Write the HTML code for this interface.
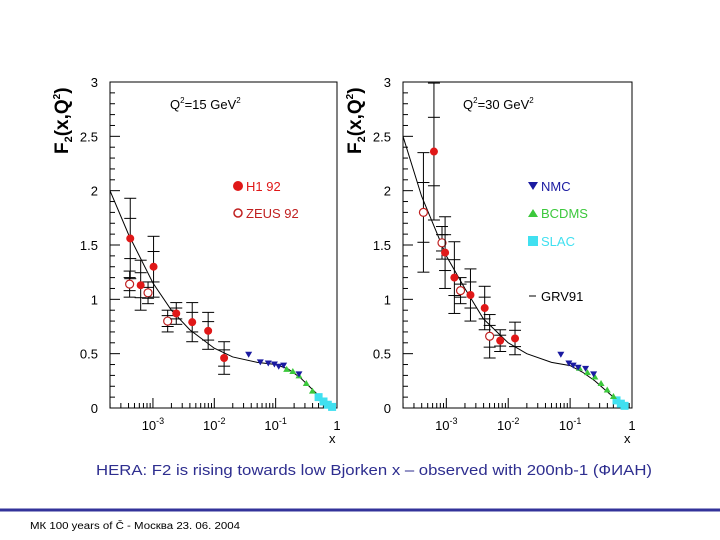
<!DOCTYPE html>
<html><head><meta charset="utf-8">
<style>
body{margin:0;background:#fff;width:720px;height:540px;overflow:hidden;font-family:"Liberation Sans",sans-serif}
svg{position:absolute;left:0;top:0}
</style></head>
<body>
<svg id="chart" width="720" height="540">
<g id="root"></g>
<line x1="0" y1="510" x2="720" y2="510" stroke="#33339a" stroke-width="3"/>
<text x="374" y="475" text-anchor="middle" font-size="15" textLength="556" lengthAdjust="spacingAndGlyphs" fill="#2e2e8f" font-family="Liberation Sans, sans-serif">HERA: F2 is rising towards low Bjorken x – observed with 200nb-1 (ФИАН)</text>
<text x="30" y="529" font-size="10" textLength="210" lengthAdjust="spacingAndGlyphs" fill="#000" font-family="Liberation Sans, sans-serif">МК 100 years of Č - Москва  23. 06. 2004</text>
</svg>
<script>
// log10(x) values and F2 values
const h1LogX_15 = [-3.37,-3.2,-2.99,-2.62,-2.36,-2.1,-1.84];
const h1F2_15 = [1.56,1.13,1.30,0.87,0.79,0.71,0.46];
const h1Err_15 = [0.37,0.23,0.28,0.1,0.18,0.17,0.15];
const zeusLogX_15 = [-3.38,-3.08,-2.76];
const zeusF2_15 = [1.14,1.06,0.80];
const zeusErr_15 = [0.12,0.1,0.1];
const nmcLogX_15 = [-1.44,-1.25,-1.12,-1.02,-0.95,-0.87,-0.62];
const nmcF2_15 = [0.49,0.42,0.41,0.40,0.38,0.39,0.31];
const bcdmsLogX_15 = [-0.82,-0.72,-0.62,-0.5,-0.4];
const bcdmsF2_15 = [0.36,0.34,0.30,0.23,0.16];
const slacLogX_15 = [-0.3,-0.22,-0.15,-0.08];
const slacF2_15 = [0.10,0.06,0.03,0.01];
const curveLogX_15 = [-3.7,-3.4,-3.0,-2.7,-2.4,-2.0,-1.7,-1.3,-1.0,-0.8,-0.6,-0.4,-0.2,-0.1];
const curveF2_15 = [2.0,1.6,1.15,0.9,0.72,0.55,0.47,0.42,0.4,0.36,0.28,0.17,0.06,0.01];

const h1LogX_30 = [-3.2,-3.02,-2.87,-2.61,-2.38,-2.13,-1.89];
const h1F2_30 = [2.36,1.43,1.2,1.04,0.92,0.62,0.64];
const h1Err_30 = [0.63,0.33,0.33,0.24,0.2,0.1,0.15];
const zeusLogX_30 = [-3.37,-3.07,-2.77,-2.3];
const zeusF2_30 = [1.8,1.52,1.08,0.66];
const zeusErr_30 = [0.55,0.15,0.12,0.2];
const nmcLogX_30 = [-1.15,-1.02,-0.95,-0.87,-0.75,-0.62];
const nmcF2_30 = [0.49,0.41,0.39,0.37,0.36,0.31];
const bcdmsLogX_30 = [-0.85,-0.72,-0.6,-0.5,-0.4,-0.3];
const bcdmsF2_30 = [0.37,0.33,0.29,0.23,0.17,0.11];
const slacLogX_30 = [-0.25,-0.18,-0.12];
const slacF2_30 = [0.07,0.04,0.02];
const curveLogX_30 = [-3.7,-3.4,-3.0,-2.7,-2.4,-2.0,-1.7,-1.3,-1.0,-0.8,-0.6,-0.4,-0.2,-0.12];
const curveF2_30 = [2.5,1.95,1.4,1.1,0.82,0.6,0.5,0.42,0.39,0.33,0.25,0.15,0.05,0.01];

const yTicks = [0,0.5,1,1.5,2,2.5,3];
const yTickLabels = ['0','0.5','1','1.5','2','2.5','3'];
const decades = [-3,-2,-1,0];

const NS='http://www.w3.org/2000/svg';
const root=document.getElementById('root');
function mk(tag,attrs,parent){const e=document.createElementNS(NS,tag);for(const k in attrs)e.setAttribute(k,attrs[k]);(parent||root).appendChild(e);return e;}

function panel(cfg){
  const g=mk('g',{});
  
  
  const L=cfg.left,R=cfg.right,T=82,B=408,lmin=-3.7,lmax=0;
  const sx=v=>L+(v-lmin)/(lmax-lmin)*(R-L);
  const sy=v=>B-v/3*(B-T);
  const frame=mk('rect',{x:L,y:T,width:R-L,height:B-T,fill:'none',stroke:'#000','stroke-width':1},g);
  
  
  for(let i=0;i<=30;i++){const v=i/10,y=sy(v),maj=i%5==0;mk('line',{x1:L,y1:y,x2:L+(maj?10:5),y2:y,stroke:'#000'},g);}
  yTicks.forEach((v,i)=>{const t=mk('text',{x:L-12,y:sy(v)+5,'text-anchor':'end','font-size':13},g);t.textContent=yTickLabels[i];
    
    });
  for(let d=-4;d<0;d++)for(let m=1;m<10;m++){const lv=d+Math.log10(m);if(lv<lmin)continue;const x=sx(lv);mk('line',{x1:x,y1:B,x2:x,y2:B-(m==1?10:5),stroke:'#000'},g);}
  decades.forEach(d=>{const x=sx(d);const t=mk('text',{x:x,y:B+22,'text-anchor':'middle','font-size':13},g);
    if(d==0)t.textContent='1';else{t.textContent='10';const s=mk('tspan',{dy:-6,'font-size':9},t);s.textContent=String(d);}
    
    });
  const xl=mk('text',{x:R-8,y:B+35,'font-size':13},g);xl.textContent='x';
  
  
  const yl=mk('text',{transform:`translate(${L-42},${T+72}) rotate(-90)`,'font-size':19,'font-weight':'bold'},g);
  yl.innerHTML='F<tspan font-size="11" dy="4">2</tspan><tspan dy="-4">(x,Q</tspan><tspan font-size="10" dy="-8">2</tspan><tspan dy="8">)</tspan>';
  
  
  const q=mk('text',{x:L+cfg.qx,y:T+27,'font-size':13},g);q.innerHTML=`Q<tspan font-size="8" dy="-6">2</tspan><tspan dy="6">=${cfg.q} GeV</tspan><tspan font-size="8" dy="-6">2</tspan>`;
  
  
  const d=cfg.cx.map((v,i)=>(i?'L':'M')+sx(v)+','+sy(cfg.cy[i])).join(' ');
  const c=mk('path',{d:d,fill:'none',stroke:'#000','stroke-width':1},g);
  
  
  cfg.slx.forEach((v,i)=>{const r=mk('rect',{x:sx(v)-4,y:sy(cfg.sly[i])-4,width:8,height:8,fill:'#40e0f0'},g);
    
    });
  cfg.bx.forEach((v,i)=>{const x=sx(v),y=sy(cfg.by[i]);const p=mk('polygon',{points:`${x-3.5},${y+3} ${x+3.5},${y+3} ${x},${y-3}`,fill:'#3cc83c'},g);
    
    });
  cfg.nx.forEach((v,i)=>{const x=sx(v),y=sy(cfg.ny[i]);const p=mk('polygon',{points:`${x-3.5},${y-3} ${x+3.5},${y-3} ${x},${y+3}`,fill:'#1a1aa0'},g);
    
    });
  function errbar(x,y,e){mk('line',{x1:x,y1:sy(y-e),x2:x,y2:sy(y+e),stroke:'#000'},g);
    [y-e,y-e/2,y+e/2,y+e].forEach(v=>mk('line',{x1:x-6,y1:sy(v),x2:x+6,y2:sy(v),stroke:'#000'},g));}
  cfg.zx.forEach((v,i)=>{const x=sx(v),y=cfg.zy[i];errbar(x,y,cfg.ze[i]);
    const c=mk('circle',{cx:x,cy:sy(y),r:4,fill:'#fff',stroke:'#c02020','stroke-width':1.2},g);
    
    });
  cfg.hx.forEach((v,i)=>{const x=sx(v),y=cfg.hy[i];errbar(x,y,cfg.he[i]);
    const c=mk('circle',{cx:x,cy:sy(y),r:4,fill:'#e01818'},g);
    
    });
  return {g,L,T};
}

const p1=panel({name:'panel-q2-15',left:110,right:337,q:'15',qx:60,
  hx:h1LogX_15,hy:h1F2_15,he:h1Err_15,zx:zeusLogX_15,zy:zeusF2_15,ze:zeusErr_15,
  nx:nmcLogX_15,ny:nmcF2_15,bx:bcdmsLogX_15,by:bcdmsF2_15,slx:slacLogX_15,sly:slacF2_15,cx:curveLogX_15,cy:curveF2_15});
const p2=panel({name:'panel-q2-30',left:403,right:632,q:'30',qx:60,
  hx:h1LogX_30,hy:h1F2_30,he:h1Err_30,zx:zeusLogX_30,zy:zeusF2_30,ze:zeusErr_30,
  nx:nmcLogX_30,ny:nmcF2_30,bx:bcdmsLogX_30,by:bcdmsF2_30,slx:slacLogX_30,sly:slacF2_30,cx:curveLogX_30,cy:curveF2_30});

function legend(g,sym,x,y,label,color,name){
  const grp=mk('g',{},g);
  
  
  if(sym=='fc')mk('circle',{cx:x,cy:y,r:5,fill:color},grp);
  if(sym=='oc')mk('circle',{cx:x,cy:y,r:4,fill:'#fff',stroke:color,'stroke-width':1.5},grp);
  if(sym=='dt')mk('polygon',{points:`${x-5},${y-4} ${x+5},${y-4} ${x},${y+4}`,fill:color},grp);
  if(sym=='ut')mk('polygon',{points:`${x-5},${y+4} ${x+5},${y+4} ${x},${y-4}`,fill:color},grp);
  if(sym=='sq')mk('rect',{x:x-5,y:y-5,width:10,height:10,fill:color},grp);
  if(sym=='ln')mk('line',{x1:x-4,y1:y,x2:x+3,y2:y,stroke:'#000'},grp);
  const t=mk('text',{x:x+8,y:y+5,'font-size':13,fill:sym=='ln'?'#000':color},grp);t.textContent=label;
}
legend(p1.g,'fc',238,186,'H1 92','#e01818','legend-h1');
legend(p1.g,'oc',238,213,'ZEUS 92','#c02020','legend-zeus');
legend(p2.g,'dt',533,186,'NMC','#1a1aa0','legend-nmc');
legend(p2.g,'ut',533,213,'BCDMS','#3cc83c','legend-bcdms');
legend(p2.g,'sq',533,241,'SLAC','#40e0f0','legend-slac');
legend(p2.g,'ln',533,296,'GRV91','#000','legend-grv91');
</script>
</body></html>
